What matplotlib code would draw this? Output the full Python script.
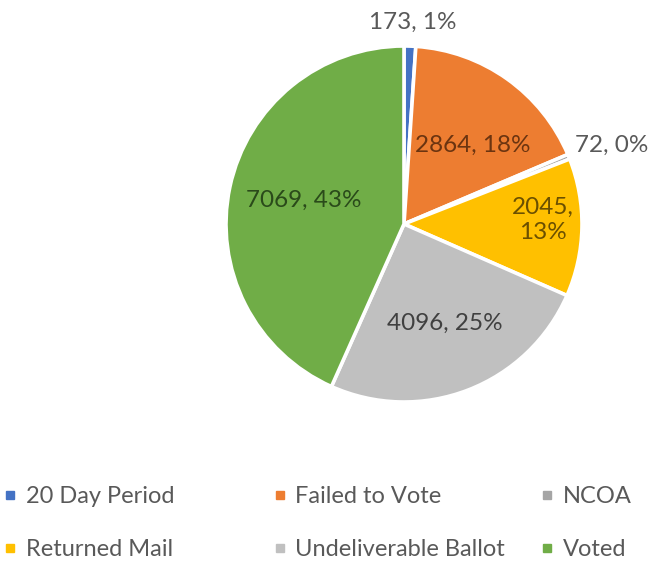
import matplotlib
matplotlib.use("Agg")
import matplotlib.pyplot as plt
from matplotlib.lines import Line2D

categories = ["20 Day Period", "Failed to Vote", "NCOA", "Returned Mail", "Undeliverable Ballot", "Voted"]
values = [173, 2864, 72, 2045, 4096, 7069]
percents = ["1%", "18%", "0%", "13%", "25%", "43%"]
colors = ["#4472C4", "#ED7D31", "#A5A5A5", "#FFC000", "#C0C0C0", "#70AD47"]
label_colors = ["#595959", "#6B3410", "#595959", "#6B5000", "#404040", "#2A4A1A"]

W, H = 657, 565
fig = plt.figure(figsize=(W / 100, H / 100), dpi=100)
ax = fig.add_axes([0, 0, 1, 1])

cx, cy, r = 404, H - 224, 178
wedges, _ = ax.pie(values, colors=colors, startangle=90, counterclock=False,
                   center=(cx, cy), radius=r,
                   wedgeprops=dict(edgecolor="white", linewidth=2.6))
ax.set_xlim(0, W)
ax.set_ylim(0, H)
ax.set_aspect("equal")
ax.axis("off")

font = "Lato"
# label positions (pixel coordinates of text centers, y from top)
label_pos = [(413, 22), (473, 145), (612, 145), (543, 220), (445, 323), (304, 200)]
for i, (x, y) in enumerate(label_pos):
    txt = f"{values[i]}, {percents[i]}"
    if categories[i] == "Returned Mail":
        txt = f"{values[i]},\n{percents[i]}"
    ax.text(x, H - y, txt, ha="center", va="center", fontsize=17.5, family=font,
            color=label_colors[i], linespacing=1.25)

def handle(c):
    return Line2D([], [], marker="s", linestyle="none", markersize=6,
                  markerfacecolor=c, markeredgecolor=c)

col_x = [0.005, 0.415, 0.822]
cols = [[0, 3], [1, 4], [2, 5]]
for cx_, idx in zip(col_x, cols):
    leg = fig.legend([handle(colors[i]) for i in idx], [categories[i] for i in idx],
                     loc="upper left", bbox_to_anchor=(cx_, 0.139), frameon=False,
                     prop=dict(family=font, size=17), labelcolor="#595959",
                     handlelength=0.6, handletextpad=0.35, labelspacing=1.35,
                     borderaxespad=0, borderpad=0)

fig.savefig("out.png", dpi=100, facecolor="white")
